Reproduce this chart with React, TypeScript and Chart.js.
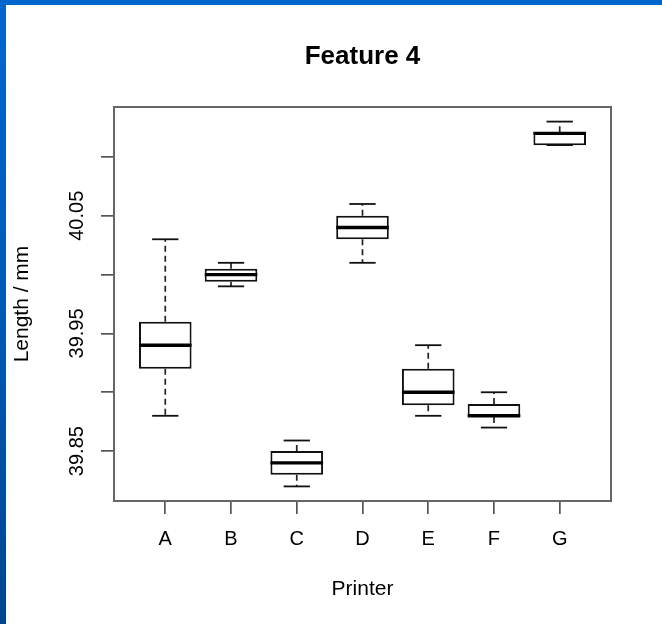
import React, { useEffect, useRef } from 'react';
import { Chart, registerables } from 'chart.js';

Chart.register(...registerables);

const categories = ['A', 'B', 'C', 'D', 'E', 'F', 'G'];
const whiskerLow = [39.88, 39.99, 39.82, 40.01, 39.88, 39.87, 40.11];
const q1 = [39.92, 39.994, 39.83, 40.03, 39.889, 39.879, 40.11];
const medians = [39.94, 40.0, 39.84, 40.04, 39.9, 39.88, 40.12];
const q3 = [39.96, 40.005, 39.85, 40.05, 39.92, 39.89, 40.121];
const whiskerHigh = [40.03, 40.01, 39.859, 40.06, 39.94, 39.9, 40.13];

const yTicks = [39.85, 39.9, 39.95, 40.0, 40.05, 40.1];
const yTickLabels = ['39.85', '', '39.95', '', '40.05', ''];
const xRange = [0.22, 7.78];
const yRange = [39.8076, 40.1424];

const chartTitle = 'Feature 4';
const xTitle = 'Printer';
const yTitle = 'Length / mm';

const FONT = "'Liberation Sans', Arial, sans-serif";

const framePlugin = {
  id: 'frame',
  afterDatasetsDraw(chart: any) {
    const { ctx, chartArea: a } = chart;
    ctx.save();
    ctx.strokeStyle = '#666';
    ctx.lineWidth = 2;
    ctx.strokeRect(a.left, a.top, a.right - a.left, a.bottom - a.top);
    ctx.restore();
  },
};

const unitPx = (ctx: any, units: number, fallback: number) => {
  const s = ctx.chart.scales && ctx.chart.scales.x;
  if (!s) return fallback;
  return Math.abs(s.getPixelForValue(1 + units) - s.getPixelForValue(1));
};

export default function App() {
  const ref = useRef<HTMLCanvasElement | null>(null);

  useEffect(() => {
    if (!ref.current) return;
    const whiskerData: any[] = [];
    categories.forEach((_, i) => {
      whiskerData.push({ x: i + 1, y: q3[i] }, { x: i + 1, y: whiskerHigh[i] }, { x: i + 1, y: null });
      whiskerData.push({ x: i + 1, y: q1[i] }, { x: i + 1, y: whiskerLow[i] }, { x: i + 1, y: null });
    });
    const capData: any[] = [];
    categories.forEach((_, i) => {
      capData.push({ x: i + 1, y: whiskerHigh[i] }, { x: i + 1, y: whiskerLow[i] });
    });

    const chart = new Chart(ref.current, {
      type: 'bar',
      data: {
        datasets: [
          {
            type: 'scatter',
            label: 'median',
            data: categories.map((_, i) => ({ x: i + 1, y: medians[i] })),
            pointStyle: 'line',
            pointRadius: (c: any) => unitPx(c, 0.4, 26),
            pointBorderWidth: 3.4,
            pointBorderColor: '#000',
            showLine: false,
          } as any,
          {
            type: 'scatter',
            label: 'caps',
            data: capData,
            pointStyle: 'line',
            pointRadius: (c: any) => unitPx(c, 0.2, 13),
            pointBorderWidth: 1.8,
            pointBorderColor: '#111',
            showLine: false,
          } as any,
          {
            type: 'bar',
            label: 'box',
            data: categories.map((_, i) => ({ x: i + 1, y: [q1[i], q3[i]] })),
            backgroundColor: '#fff',
            borderColor: '#111',
            borderWidth: 2,
            borderSkipped: false,
            barPercentage: 0.8,
            categoryPercentage: 1,
          } as any,
          {
            type: 'line',
            label: 'whiskers',
            data: whiskerData,
            borderColor: '#222',
            borderWidth: 1.7,
            borderDash: [6, 4],
            pointRadius: 0,
            spanGaps: false,
          } as any,
        ],
      },
      options: {
        responsive: false,
        devicePixelRatio: 1,
        animation: false,
        events: [],
        layout: { padding: { left: 0, top: 0, right: 51, bottom: 0 } },
        plugins: {
          legend: { display: false },
          tooltip: { enabled: false },
          title: {
            display: true,
            text: chartTitle,
            color: '#000',
            fullSize: false,
            font: { family: FONT, size: 26, weight: 'bold' },
            padding: { top: 36.4, bottom: 34.4 },
          },
        },
        scales: {
          x: {
            type: 'linear',
            position: 'bottom',
            min: xRange[0],
            max: xRange[1],
            offset: false,
            bounds: 'data',
            afterBuildTicks: (s: any) => {
              s.ticks = categories.map((_, i) => ({ value: i + 1 }));
            },
            afterFit: (s: any) => {
              s.height = 123;
            },
            ticks: {
              autoSkip: false,
              minRotation: 0,
              maxRotation: 0,
              padding: 13,
              color: '#000',
              font: { family: FONT, size: 20 },
              callback: (_v: any, i: number) => categories[i],
            },
            grid: {
              display: true,
              drawOnChartArea: false,
              drawTicks: true,
              tickLength: 13,
              color: '#555',
              lineWidth: 1.7,
              offset: false,
            },
            border: { display: false },
            title: {
              display: true,
              text: xTitle,
              color: '#000',
              font: { family: FONT, size: 21 },
              padding: { top: 0, bottom: 22.4 },
            },
          },
          y: {
            type: 'linear',
            position: 'left',
            min: yRange[0],
            max: yRange[1],
            bounds: 'data',
            afterBuildTicks: (s: any) => {
              s.ticks = yTicks.map((v) => ({ value: v }));
            },
            afterFit: (s: any) => {
              s.width = 108;
            },
            ticks: {
              autoSkip: false,
              minRotation: 90,
              maxRotation: 90,
              crossAlign: 'center',
              padding: -2,
              color: '#000',
              font: { family: FONT, size: 20 },
              callback: (_v: any, i: number) => yTickLabels[i],
            },
            grid: {
              display: true,
              drawOnChartArea: false,
              drawTicks: true,
              tickLength: 13,
              color: '#555',
              lineWidth: 1.7,
            },
            border: { display: false },
            title: {
              display: true,
              text: yTitle,
              color: '#000',
              font: { family: FONT, size: 21 },
              padding: { top: 3.4, bottom: 0 },
            },
          },
        },
      } as any,
      plugins: [framePlugin],
    });
    return () => chart.destroy();
  }, []);

  return (
    <div
      style={{
        position: 'fixed',
        left: 0,
        top: 0,
        width: 662,
        height: 624,
        background: 'linear-gradient(180deg, #0066cc 0%, #005cb8 45%, #00468f 100%)',
      }}
    >
      <div style={{ position: 'absolute', left: 6, top: 5, width: 656, height: 619, background: '#fff' }}>
        <canvas ref={ref} width={656} height={619} style={{ display: 'block', width: 656, height: 619 }} />
      </div>
    </div>
  );
}
